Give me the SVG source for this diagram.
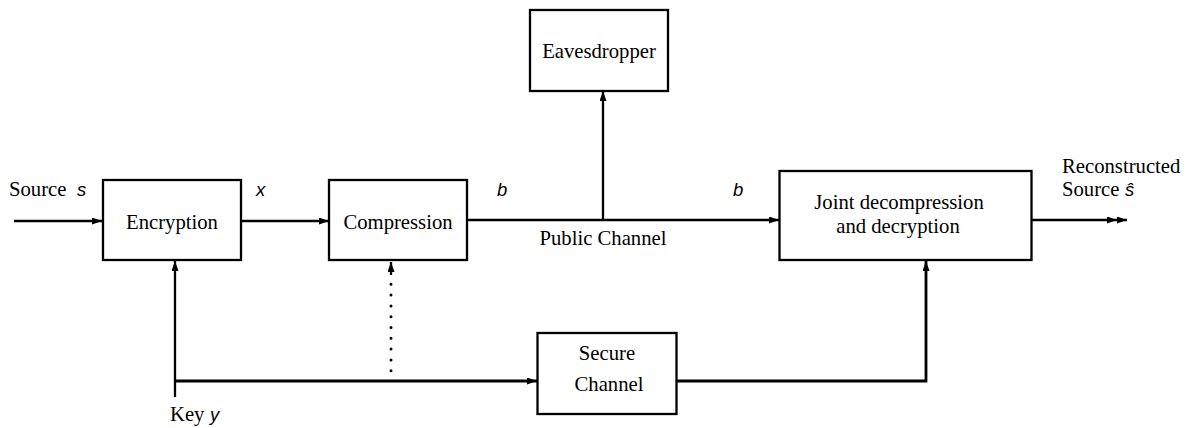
<svg xmlns="http://www.w3.org/2000/svg" width="1188" height="428" viewBox="0 0 1188 428">
<style>
.box{fill:#fff;stroke:#000;stroke-width:2.3}
.t{font-family:"Liberation Serif","Times New Roman",serif;font-size:20.7px;fill:#000}
.m{font-family:"Liberation Sans",Arial,sans-serif;font-style:italic;font-size:18.5px;fill:#000}
.c{text-anchor:middle}
.ln{fill:none;stroke:#000;stroke-width:2.3}
.thick{stroke-width:2.8}
.dot{fill:none;stroke:#000;stroke-width:3;stroke-linecap:round;stroke-dasharray:0 10.8}
</style>
<defs>
<marker id="ah" markerUnits="userSpaceOnUse" markerWidth="11" markerHeight="8" refX="10" refY="3.5" orient="auto">
<path d="M0,0 L10,3.5 L0,7 z" fill="#000"/>
</marker>
<marker id="ah2" markerUnits="userSpaceOnUse" markerWidth="21" markerHeight="8" refX="20" refY="3.5" orient="auto">
<path d="M0,0 L10,3.5 L0,7 z M10,0 L20,3.5 L10,7 z" fill="#000"/>
</marker>
</defs>
<g id="connectors">
<path class="ln" d="M14,221 H102" marker-end="url(#ah)"/>
<path class="ln" d="M241,221 H329" marker-end="url(#ah)"/>
<path class="ln" d="M467,220 H779" marker-end="url(#ah)"/>
<path class="ln" d="M603,220 V91" marker-end="url(#ah)"/>
<path class="ln" d="M1032,220 H1127" marker-end="url(#ah2)"/>
<path class="ln" d="M175,397 V261" marker-end="url(#ah)"/>
<path class="ln thick" d="M175,381 H537" marker-end="url(#ah)"/>
<path class="dot" d="M391,370.7 V284"/>
<path class="ln" d="M391,275 V262" marker-end="url(#ah)"/>
<path class="ln thick" d="M677,381 H926 V261" marker-end="url(#ah)"/>
</g>
<g id="source-label">
<text class="t" x="9" y="196">Source</text>
<text class="m" x="77" y="196">s</text>
</g>
<g id="encryption">
<rect class="box" x="103" y="180" width="138" height="80"/>
<text class="t c" x="172" y="229">Encryption</text>
</g>
<g id="x-label"><text class="m" x="256" y="196">x</text></g>
<g id="compression">
<rect class="box" x="329" y="180" width="138" height="80"/>
<text class="t c" x="398" y="229">Compression</text>
</g>
<g id="b-labels">
<text class="m" x="497" y="196">b</text>
<text class="m" x="733" y="196">b</text>
</g>
<g id="public-channel"><text class="t c" x="603" y="245">Public Channel</text></g>
<g id="eavesdropper">
<rect class="box" x="530" y="10" width="138" height="81"/>
<text class="t c" x="599" y="58">Eavesdropper</text>
</g>
<g id="joint">
<rect class="box" x="779.5" y="171" width="252" height="89"/>
<text class="t c" x="899" y="209">Joint decompression</text>
<text class="t c" x="898" y="233">and decryption</text>
</g>
<g id="reconstructed">
<text class="t" x="1062" y="173">Reconstructed</text>
<text class="t" x="1062" y="196">Source</text>
<text class="m" x="1125" y="196">ŝ</text>
</g>
<g id="secure">
<rect class="box" x="537.5" y="333" width="139" height="81"/>
<text class="t c" x="607" y="360">Secure</text>
<text class="t c" x="609" y="391">Channel</text>
</g>
<g id="key-label">
<text class="t" x="170" y="421">Key</text>
<text class="m" x="210" y="421">y</text>
</g>
</svg>
